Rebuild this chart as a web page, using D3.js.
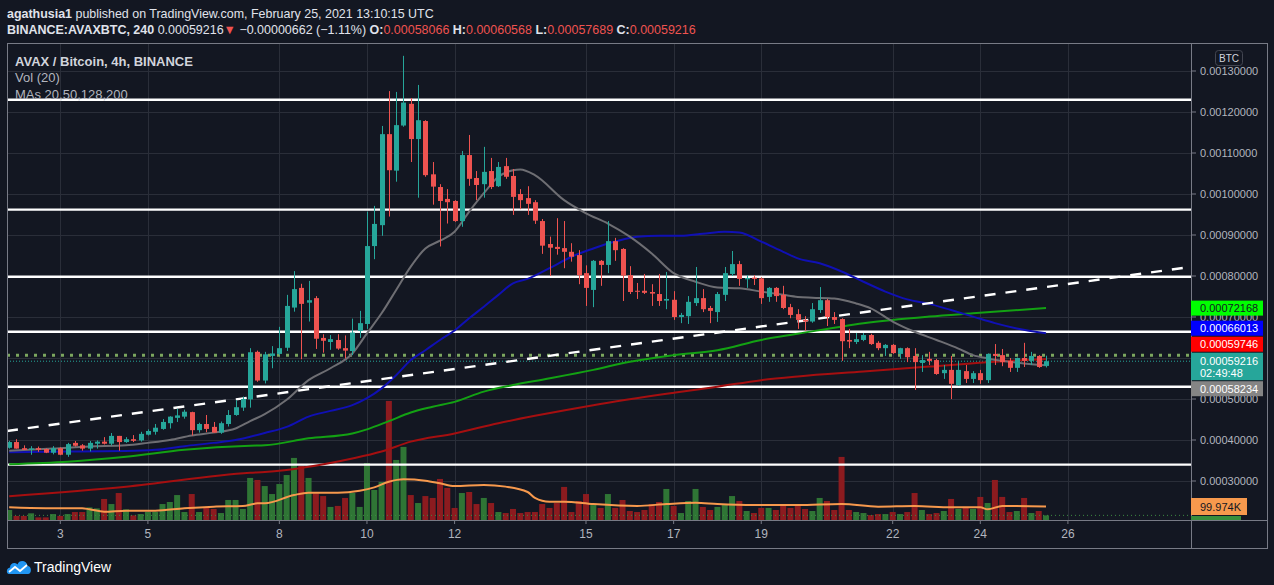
<!DOCTYPE html>
<html>
<head>
<meta charset="utf-8">
<script src="https://cdn.jsdelivr.net/npm/d3@7"></script>
<style>
  html, body { margin: 0; padding: 0; background: #131722; }
  svg text { font-family: "Liberation Sans", Arial, sans-serif; }
</style>
</head>
<body>
<svg id="chart" width="1274" height="585"></svg>
<script>
// AVAX / BTC, 4h candles, prices in units of 1e-5 BTC
const firstCandle = Date.UTC(2021, 1, 1, 20);
const candleHours = 4;

const openP = [38.1,39.5,38.0,37.6,38.0,37.8,36.9,38.0,36.4,39.3,38.7,37.9,39.1,39.6,39.1,41.0,39.5,40.2,39.9,41.3,
  42.0,42.7,44.1,45.4,45.7,46.8,42.4,43.9,43.2,41.8,43.9,46.1,47.9,49.9,61.5,54.5,60.5,61.0,62.5,72.3,
  77.1,73.5,74.6,64.9,63.9,64.4,62.4,61.7,66.6,68.3,87.3,92.4,114.6,105.7,116.7,122.0,113.4,117.8,104.8,101.7,
  98.8,98.3,93.4,109.5,103.9,102.4,105.6,101.9,106.8,104.4,100.0,99.0,98.0,93.4,87.8,87.1,86.8,85.9,85.1,80.7,
  76.6,83.7,82.7,88.5,86.6,80.2,76.4,76.4,76.1,75.6,74.0,74.2,70.0,70.2,73.4,74.6,72.2,71.2,75.4,80.5,
  82.9,79.2,79.6,79.4,74.9,77.1,75.4,72.4,70.7,69.3,68.9,71.7,74.1,70.0,69.5,64.4,63.9,64.4,65.6,63.7,
  62.4,63.2,61.0,62.4,60.5,58.8,59.8,59.5,56.3,57.1,53.4,56.8,54.9,56.3,54.6,61.0,60.7,59.3,57.6,60.0,
  59.3,60.5,58.066];
const highP = [39.8,40.2,38.7,38.5,38.4,37.95,38.5,38.2,39.3,39.75,39.0,39.75,39.9,40.7,41.7,41.0,40.7,41.2,42.0,42.6,
  43.9,45.1,45.8,47.6,47.4,46.9,44.2,46.1,44.4,44.5,47.3,49.7,50.6,62.4,61.8,61.5,62.9,67.6,75.4,81.2,
  78.1,78.8,75.1,65.8,65.6,65.8,65.5,69.6,71.5,95.7,97.1,116.6,125.1,124.9,133.7,123.4,126.6,118.0,107.8,102.4,
  101.2,98.5,110.5,114.4,105.6,111.5,108.8,107.8,108.8,106.1,101.2,101.9,98.5,93.9,89.6,94.1,93.4,88.0,86.3,82.6,
  83.9,83.9,93.4,89.3,86.8,82.4,78.3,80.5,78.0,80.5,81.0,76.3,71.0,75.1,82.2,76.8,72.7,76.1,82.2,86.1,
  83.7,80.2,80.2,79.7,77.3,77.3,77.6,73.2,71.9,70.2,73.4,77.3,74.4,71.2,69.7,67.1,66.1,66.1,65.9,64.1,
  63.4,63.4,62.5,62.6,62.4,60.7,61.5,59.8,58.3,60.5,59.3,58.3,56.8,57.1,61.1,63.4,62.2,60.0,60.1,63.7,
  61.5,60.7,60.568];
const lowP = [37.9,37.9,37.6,36.4,37.1,36.8,36.5,36.3,35.9,38.4,37.4,37.2,37.9,38.9,38.7,37.4,39.3,39.5,39.6,41.1,
  41.3,42.5,42.8,44.4,45.2,41.1,41.8,41.9,41.8,41.5,43.3,45.9,47.1,47.9,54.2,53.8,57.5,60.7,61.7,71.3,
  59.7,68.9,62.2,61.3,62.0,62.0,59.9,60.7,64.9,67.1,84.1,89.8,94.5,103.0,116.4,107.8,99.1,104.2,97.4,87.2,
  92.8,93.2,92.0,102.0,98.5,99.1,101.2,101.7,103.7,94.9,96.3,94.9,92.7,85.4,80.0,85.2,81.9,83.5,78.0,72.7,
  72.4,77.6,80.7,83.7,73.9,75.6,74.4,75.6,72.7,72.7,71.9,69.3,68.5,68.3,72.7,71.2,68.5,68.8,73.9,80.0,
  77.6,77.1,77.8,73.2,73.7,73.7,71.9,69.7,67.1,66.6,68.6,71.0,67.8,68.3,59.3,62.4,63.4,64.1,63.2,61.9,
  60.5,61.0,59.8,59.0,52.2,56.6,58.3,55.9,54.9,50.0,53.2,53.9,53.9,53.7,53.9,58.3,58.0,56.6,56.6,57.8,
  58.3,57.6,57.689];
const closeP = [39.5,37.9,37.6,37.95,37.6,36.9,38.0,36.4,39.0,38.6,37.9,39.3,39.6,39.1,41.0,39.5,40.2,39.8,41.5,42.2,
  43.0,44.4,45.7,46.0,46.9,42.4,43.9,42.7,41.8,44.1,46.1,48.0,50.0,61.4,54.5,60.9,61.1,62.4,72.7,76.8,
  73.2,74.1,64.7,64.2,64.6,62.3,61.8,66.2,68.5,87.3,92.7,114.6,105.8,116.8,122.3,113.4,118.0,104.6,101.8,98.3,
  98.0,93.4,109.5,103.7,102.2,105.4,101.7,106.6,104.2,99.3,98.5,97.6,93.5,87.4,86.9,86.6,85.9,84.7,80.2,77.1,
  83.7,82.7,88.5,86.3,80.1,76.1,76.2,75.9,75.7,73.9,74.4,70.0,70.5,73.7,74.6,71.9,71.5,75.6,80.7,82.9,
  79.3,79.5,79.3,74.6,77.1,75.1,72.2,70.5,69.3,68.9,71.9,74.1,70.0,69.3,64.1,64.0,64.6,65.6,63.4,62.4,
  63.2,61.2,62.4,60.2,59.0,59.5,59.3,56.1,57.1,53.7,57.1,54.9,56.3,54.6,61.0,60.5,59.0,57.6,60.0,59.3,
  60.5,57.8,59.216];
// volume, thousands of AVAX
const volumeK = [76,35,35,53,25,25,48,35,48,62,62,94,87,152,117,193,80,39,48,62,
  62,117,131,179,62,186,62,94,83,55,145,145,83,297,283,241,186,255,317,435,
  380,297,191,172,97,104,159,193,97,400,214,269,828,421,511,179,124,172,159,290,
  228,90,193,200,117,159,124,62,55,83,55,62,62,117,90,124,235,62,138,186,
  110,90,186,90,145,69,62,76,117,131,221,104,55,138,221,97,76,97,117,172,
  138,69,55,90,90,76,117,90,107,83,69,159,138,76,442,76,62,55,41,48,
  48,62,48,62,193,76,48,55,69,152,83,97,83,166,124,283,166,62,69,159,
  55,69,38.84];

// moving averages: [candle number, value]
const ma20 = [[1,37.4],[7,37.9],[12,38.4],[17,38.7],[20,39.3],[23,40.0],[26,41.1],[29,41.8],[32,42.8],[34,44.6],
  [36,46.3],[39,49.8],[42,54.6],[45,57.5],[48,61.1],[50,66.0],[52,70.9],[54,76.6],[56,82.3],[58,86.7],
  [60,88.6],[62,90.8],[64,95.7],[66,100.2],[68,104.2],[70,105.8],[71,106.0],[73,104.6],[77,98.5],[80,95.3],
  [83,92.8],[86,89.6],[89,85.5],[92,80.7],[95,78.6],[98,77.2],[101,77.0],[104,76.2],[107,75.4],[109,74.9],
  [111,74.7],[114,74.5],[117,73.3],[119,72.1],[122,68.9],[125,66.4],[128,64.4],[131,62.3],[133,60.7],[135,59.9],
  [138,59.1],[141,58.5],[143,58.234]];
const ma50 = [[1,37.0],[9,37.2],[17,37.3],[21,37.6],[25,38.5],[29,39.3],[32,40.0],[34,40.8],[36,41.7],[39,43.2],
  [42,45.7],[45,47.1],[48,48.5],[50,50.2],[52,52.6],[54,55.8],[56,59.5],[58,61.9],[60,64.4],[62,66.7],
  [64,69.7],[66,72.5],[68,75.4],[70,78.2],[72,79.3],[75,81.9],[78,84.7],[81,86.7],[84,88.4],[87,89.6],
  [90,89.8],[93,89.8],[96,90.3],[99,90.8],[101,90.6],[104,88.4],[107,85.9],[109,84.3],[112,83.1],[115,81.1],
  [118,78.6],[121,76.2],[124,74.3],[127,73.2],[130,71.7],[133,70.1],[136,68.5],[139,67.2],[143,66.013]];
const ma128 = [[1,34.1],[9,34.7],[17,35.9],[25,37.6],[34,38.6],[36,38.7],[42,40.4],[48,41.6],[50,42.6],[53,44.6],
  [56,46.7],[59,48.1],[62,49.3],[66,51.8],[70,53.4],[73,54.4],[81,57.1],[86,59.1],[92,60.7],[98,61.9],
  [104,64.4],[109,65.9],[118,68.5],[127,70.1],[133,70.9],[143,72.168]];
const ma200 = [[1,26.3],[17,28.6],[34,32.0],[36,32.2],[48,35.5],[52,37.2],[56,39.6],[62,41.6],[68,44.1],[73,45.9],
  [81,48.5],[92,51.5],[98,53.0],[104,54.6],[109,55.5],[118,56.7],[127,57.9],[136,59.1],[143,59.746]];
const volMa = [[1,94],[6,88],[11,88],[12,81],[14,64],[17,71],[21,71],[25,88],[29,99],[33,103],
  [35,122],[36,122],[40,179],[42,195],[46,195],[49,209],[51,232],[53,271],[55,288],[58,278],
  [60,260],[62,241],[66,248],[69,237],[72,200],[73,160],[75,133],[77,133],[81,117],[87,104],
  [91,117],[95,126],[98,117],[103,110],[109,110],[115,117],[120,99],[125,104],[130,94],[134,94],
  [135,81],[137,104],[143,99.974]];

// drawn levels
const levels = [123.0, 96.2, 79.8, 66.4, 53.0, 34.0];
const dottedLevel = 60.7;
const trendLine = [[Date.UTC(2021, 1, 2), 42.5], [Date.UTC(2021, 1, 24), 75.1]];

const priceTicks = [30, 40, 50, 60, 70, 80, 90, 100, 110, 120, 130];
const dayTicks = [3, 5, 8, 10, 12, 15, 17, 19, 22, 24, 26];
const countdown = "02:49:48";

const W = 1274, H = 585;
const plot = {left: 7, right: 1191, top: 43, bottom: 520};
const frame = {left: 7, right: 1267, top: 43, bottom: 548};

const svg = d3.select("#chart");
svg.append("rect").attr("width", W).attr("height", H).attr("fill", "#131722");

const times = openP.map((d, i) => new Date(firstCandle + i * candleHours * 3600e3));
const x = d3.scaleUtc()
  .domain([Date.UTC(2021, 1, 3), Date.UTC(2021, 1, 24)])
  .range([60.3, 980.3]);
const y = d3.scaleLinear().domain([30, 130]).range([481, 71]);
const yVol = d3.scaleLinear().domain([0, 1000]).range([521, 376]);
const fmtPrice = v => d3.format(".8f")(v / 1e5);

svg.append("clipPath").attr("id", "plotclip")
  .append("rect")
    .attr("x", plot.left).attr("y", plot.top)
    .attr("width", plot.right - plot.left).attr("height", plot.bottom - plot.top);

// grid
const grid = svg.append("g").attr("stroke", "#2a2e39").attr("stroke-width", 1);
grid.selectAll(".hg").data(priceTicks).join("line")
  .attr("x1", plot.left).attr("x2", plot.right)
  .attr("y1", d => Math.round(y(d)) + 0.5).attr("y2", d => Math.round(y(d)) + 0.5);
grid.selectAll(".vg").data(dayTicks).join("line")
  .attr("x1", d => Math.round(x(Date.UTC(2021, 1, d))) + 0.5)
  .attr("x2", d => Math.round(x(Date.UTC(2021, 1, d))) + 0.5)
  .attr("y1", plot.top).attr("y2", plot.bottom);

const g = svg.append("g").attr("clip-path", "url(#plotclip)");
const idx = d3.range(openP.length);
const up = i => closeP[i] >= openP[i];

// volume bars
g.append("g").selectAll("rect").data(idx).join("rect")
  .attr("x", i => x(times[i]) - 3)
  .attr("width", 6)
  .attr("y", i => yVol(volumeK[i]))
  .attr("height", i => yVol(0) - yVol(volumeK[i]))
  .attr("fill", i => up(i) ? "#2f7535" : "#8c1b1f");

// volume MA
const maLine = (scale) => d3.line()
  .x(d => x(times[d[0] - 1]))
  .y(d => scale(d[1]))
  .curve(d3.curveMonotoneX);
g.append("path").datum(volMa)
  .attr("fill", "none").attr("stroke", "#f7994d").attr("stroke-width", 2)
  .attr("d", maLine(yVol));

// last volume dotted line
g.append("line")
  .attr("x1", plot.left).attr("x2", plot.right)
  .attr("y1", yVol(volumeK[volumeK.length - 1])).attr("y2", yVol(volumeK[volumeK.length - 1]))
  .attr("stroke", "#3d8a42").attr("stroke-width", 1).attr("stroke-dasharray", "1,3");

// horizontal levels
g.append("g").selectAll("line").data(levels).join("line")
  .attr("x1", plot.left).attr("x2", plot.right)
  .attr("y1", d => y(d)).attr("y2", d => y(d))
  .attr("stroke", "#ffffff").attr("stroke-width", 2.4);

// dotted level
g.append("line")
  .attr("x1", plot.left).attr("x2", plot.right)
  .attr("y1", y(dottedLevel)).attr("y2", y(dottedLevel))
  .attr("stroke", "#8fbf6a").attr("stroke-opacity", 0.85)
  .attr("stroke-width", 3).attr("stroke-dasharray", "3,6");

// close price line
const lastClose = closeP[closeP.length - 1];
g.append("line")
  .attr("x1", plot.left).attr("x2", plot.right)
  .attr("y1", y(lastClose)).attr("y2", y(lastClose))
  .attr("stroke", "#26a69a").attr("stroke-width", 1).attr("stroke-dasharray", "1,2");

// moving averages
const mas = [
  {data: ma200, color: "#a50f10"},
  {data: ma128, color: "#13a113"},
  {data: ma50, color: "#1010b4"},
  {data: ma20, color: "#6e6e73"}
];
g.append("g").selectAll("path").data(mas).join("path")
  .attr("fill", "none").attr("stroke", d => d.color).attr("stroke-width", 2)
  .attr("d", d => maLine(y)(d.data));

// trend line, extended across the plot
const tSlope = (trendLine[1][1] - trendLine[0][1]) / (trendLine[1][0] - trendLine[0][0]);
const tAt = t => trendLine[0][1] + tSlope * (t - trendLine[0][0]);
const tL = x.invert(plot.left).getTime(), tR = x.invert(plot.right).getTime();
g.append("line")
  .attr("x1", plot.left).attr("y1", y(tAt(tL)))
  .attr("x2", plot.right).attr("y2", y(tAt(tR)))
  .attr("stroke", "#ffffff").attr("stroke-width", 2.4).attr("stroke-dasharray", "11,10");

// candles
const cg = g.append("g");
cg.selectAll("line").data(idx).join("line")
  .attr("x1", i => Math.round(x(times[i])) + 0.5).attr("x2", i => Math.round(x(times[i])) + 0.5)
  .attr("y1", i => y(highP[i])).attr("y2", i => y(lowP[i]))
  .attr("stroke", i => up(i) ? "#26a69a" : "#ef5350").attr("stroke-width", 1);
cg.selectAll("rect").data(idx).join("rect")
  .attr("x", i => Math.round(x(times[i])) - 2)
  .attr("width", 5)
  .attr("y", i => y(Math.max(openP[i], closeP[i])))
  .attr("height", i => Math.max(1, Math.abs(y(openP[i]) - y(closeP[i]))))
  .attr("fill", i => up(i) ? "#26a69a" : "#ef5350");

// frame and axes
const fr = svg.append("g").attr("stroke", "#787b86").attr("stroke-width", 1).attr("fill", "none");
fr.append("rect")
  .attr("x", frame.left + 0.5).attr("y", frame.top + 0.5)
  .attr("width", frame.right - frame.left).attr("height", frame.bottom - frame.top);
fr.append("line").attr("x1", plot.right + 0.5).attr("x2", plot.right + 0.5)
  .attr("y1", frame.top).attr("y2", frame.bottom);
fr.append("line").attr("x1", frame.left).attr("x2", frame.right)
  .attr("y1", plot.bottom + 0.5).attr("y2", plot.bottom + 0.5);

// value badges on the price axis (laid out first so covered tick labels can be skipped)
const badges = [
  {v: ma128[ma128.length - 1][1], fill: "#00ff00", color: "#131722"},
  {v: ma50[ma50.length - 1][1], fill: "#0000ff", color: "#ffffff"},
  {v: ma200[ma200.length - 1][1], fill: "#ff0000", color: "#ffffff"},
  {v: ma20[ma20.length - 1][1], fill: "#858585", color: "#ffffff"}
];
const closeTop = y(lastClose) - 8.5, closeH = 27.5, bH = 15;
const above = badges.filter(b => b.v > lastClose).sort((a, b) => a.v - b.v);
const below = badges.filter(b => b.v <= lastClose).sort((a, b) => b.v - a.v);
let lim = closeTop - 1;
above.forEach(b => { b.top = Math.min(y(b.v) - bH / 2, lim - bH); lim = b.top - 1; });
lim = closeTop + closeH + 1;
below.forEach(b => { b.top = Math.max(y(b.v) - bH / 2, lim); lim = b.top + bH + 1; });
const boxes = badges.map(b => [b.top, b.top + bH]).concat([[closeTop, closeTop + closeH]]);
const hidden = v => boxes.some(([t, b]) => y(v) - 4 >= t && y(v) + 4 <= b);

// price axis
const pa = svg.append("g");
pa.selectAll("line").data(priceTicks).join("line")
  .attr("x1", plot.right).attr("x2", plot.right + 5)
  .attr("y1", d => y(d)).attr("y2", d => y(d))
  .attr("stroke", "#787b86");
pa.selectAll("text").data(priceTicks.filter(v => !hidden(v))).join("text")
  .attr("x", 1200).attr("y", d => y(d) + 4)
  .attr("fill", "#b2b5be").attr("font-size", 11)
  .text(fmtPrice);

// currency badge
svg.append("rect").attr("x", 1215.5).attr("y", 50.5).attr("width", 27).attr("height", 15).attr("rx", 3)
  .attr("fill", "#131722").attr("stroke", "#434651");
svg.append("text").attr("x", 1229).attr("y", 61.5).attr("text-anchor", "middle")
  .attr("fill", "#d1d4dc").attr("font-size", 10).text("BTC");

// time axis
const ta = svg.append("g");
ta.selectAll("line").data(dayTicks).join("line")
  .attr("x1", d => x(Date.UTC(2021, 1, d))).attr("x2", d => x(Date.UTC(2021, 1, d)))
  .attr("y1", plot.bottom).attr("y2", plot.bottom + 4)
  .attr("stroke", "#787b86");
ta.selectAll("text").data(dayTicks).join("text")
  .attr("x", d => x(Date.UTC(2021, 1, d))).attr("y", 537.5)
  .attr("text-anchor", "middle").attr("fill", "#b2b5be").attr("font-size", 12)
  .text(d => d);

const bg = svg.append("g");
badges.forEach(b => {
  bg.append("rect").attr("x", plot.right).attr("y", b.top).attr("width", 72).attr("height", bH).attr("fill", b.fill);
  bg.append("text").attr("x", 1200).attr("y", b.top + 11.5).attr("fill", b.color).attr("font-size", 11).text(fmtPrice(b.v));
});
bg.append("rect").attr("x", plot.right).attr("y", closeTop).attr("width", 72).attr("height", closeH).attr("fill", "#26a69a");
bg.append("text").attr("x", 1200).attr("y", closeTop + 12).attr("fill", "#ffffff").attr("font-size", 11).text(fmtPrice(lastClose));
bg.append("text").attr("x", 1200).attr("y", closeTop + 24.5).attr("fill", "#ffffff").attr("font-size", 11).text(countdown);

// volume badges (cut off by the time axis)
svg.append("clipPath").attr("id", "axisclip").append("rect")
  .attr("x", plot.right).attr("y", plot.top).attr("width", 80).attr("height", plot.bottom - plot.top);
const vb = svg.append("g").attr("clip-path", "url(#axisclip)");
const vmaLast = volMa[volMa.length - 1][1], volLast = volumeK[volumeK.length - 1];
const vTop = yVol(vmaLast) - 8.5;
const fmtK = v => d3.format(".5~r")(v) + "K";
vb.append("rect").attr("x", plot.right).attr("y", vTop).attr("width", 56).attr("height", 17).attr("fill", "#f7994d");
vb.append("text").attr("x", 1200).attr("y", vTop + 12.5).attr("fill", "#131722").attr("font-size", 11).text(fmtK(vmaLast));
const vTop2 = Math.max(yVol(volLast) - 8.5, vTop + 18);
vb.append("rect").attr("x", plot.right).attr("y", vTop2).attr("width", 50).attr("height", 17).attr("fill", "#388e3c");
vb.append("text").attr("x", 1200).attr("y", vTop2 + 12.5).attr("fill", "#ffffff").attr("font-size", 11).text(fmtK(volLast));

// header
function fitText(sel, targetW) {
  const w = sel.node().getComputedTextLength();
  const x0 = +sel.attr("x"), y0 = +sel.attr("y");
  sel.attr("x", 0).attr("y", 0).attr("transform", `translate(${x0},${y0}) scale(${targetW / w},1)`);
}
const h1 = svg.append("text").attr("x", 7).attr("y", 17.5).attr("font-size", 12.5).attr("fill", "#e0e3eb");
h1.append("tspan").attr("font-weight", "bold").text("agathusia1");
h1.append("tspan").text(" published on TradingView.com, February 25, 2021 13:10:15 UTC");
fitText(h1, 427);

const red = "#ef5350";
const h2 = svg.append("text").attr("x", 7).attr("y", 33.5).attr("font-size", 12.5).attr("fill", "#e0e3eb");
h2.append("tspan").attr("font-weight", "bold").text("BINANCE:AVAXBTC, 240");
h2.append("tspan").text(" " + fmtPrice(lastClose));
h2.append("tspan").attr("fill", red).text("▼");
h2.append("tspan").text(" −0.00000662 (−1.11%) ");
[["O:", openP], ["H:", highP], ["L:", lowP], ["C:", closeP]].forEach(([k, arr], j) => {
  h2.append("tspan").attr("font-weight", "bold").text((j ? " " : "") + k);
  h2.append("tspan").attr("fill", red).text(fmtPrice(arr[arr.length - 1]));
});
fitText(h2, 689);

// legend
const lg = svg.append("g").attr("font-size", 13);
lg.append("text").attr("x", 15).attr("y", 65.5).attr("fill", "#d1d4dc").attr("font-weight", "bold")
  .text("AVAX / Bitcoin, 4h, BINANCE");
lg.append("text").attr("x", 15).attr("y", 82).attr("fill", "#b2b5be").text("Vol (20)");
lg.append("text").attr("x", 15).attr("y", 99).attr("fill", "#b2b5be").text("MAs 20,50,128,200");

// TradingView mark
const logo = svg.append("g").attr("transform", "translate(6,558)");
logo.append("path")
  .attr("d", "M3,16 C0,16 0,10 4,9.5 C4,5 9,3.5 11.5,6.5 C13,1.5 21,2 21.5,8 C26,8 26,16 22,16 Z")
  .attr("fill", "#2196f3");
logo.append("polyline").attr("points", "3,14 9,9 14,13 21,7")
  .attr("fill", "none").attr("stroke", "#ffffff").attr("stroke-width", 1.8);
svg.append("text").attr("x", 34).attr("y", 572).attr("fill", "#ffffff").attr("font-size", 14)
  .text("TradingView");
</script>
</body>
</html>
